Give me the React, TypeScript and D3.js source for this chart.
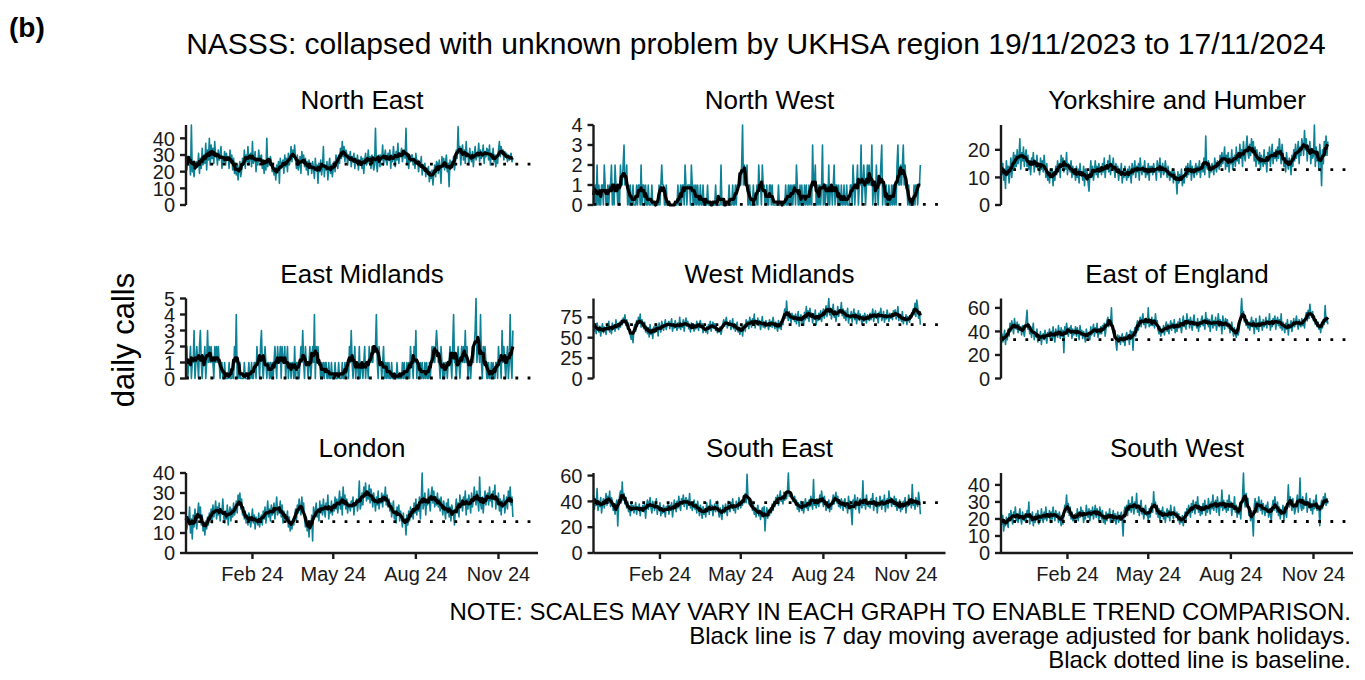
import React from 'react'
import * as d3 from 'd3'

// Daily calls, 19/11/2023 .. 17/11/2024 (365 days)
const regionNames = [
  'North East', 'North West', 'Yorkshire and Humber',
  'East Midlands', 'West Midlands', 'East of England',
  'London', 'South East', 'South West',
]

const northEast = [
  33,21,29,24,27,18,48,20,22,17,25,22,26,23,31,19,28,22,34,24,30,25,37,21,33,27,40,24,
  36,28,34,25,38,29,31,24,33,27,30,35,22,29,26,32,24,31,27,29,22,33,26,30,21,28,19,25,
  18,24,15,22,26,17,21,28,24,33,22,30,26,35,24,29,31,23,38,25,27,32,20,28,24,33,26,29,
  30,22,27,19,25,21,40,23,28,24,29,26,20,25,18,22,15,24,20,26,13,28,22,25,27,19,30,23,
  28,20,31,24,27,35,26,33,29,36,27,22,30,21,24,29,19,32,26,30,23,28,21,26,18,27,22,25,
  19,26,22,16,28,21,24,13,25,20,27,18,23,35,17,24,21,26,15,23,28,19,24,17,22,26,20,30,
  27,22,30,25,34,28,38,29,35,26,33,31,24,30,27,32,23,29,26,31,22,28,25,30,21,27,24,29,
  22,28,19,27,31,24,26,33,25,29,22,30,26,21,24,46,26,20,27,30,23,30,27,36,24,29,33,26,
  24,31,27,33,22,30,26,35,28,23,32,27,37,25,31,29,34,26,30,33,28,46,25,31,22,29,26,30,
  30,24,28,22,31,25,27,20,26,23,29,18,24,21,25,17,22,19,23,14,20,16,21,12,19,24,17,26,
  25,19,27,22,13,29,24,28,21,26,30,20,25,11,27,22,26,24,29,21,26,33,28,47,31,35,24,33,
  36,27,33,25,38,29,31,24,34,28,26,32,23,30,35,27,31,29,37,26,33,28,30,36,25,32,29,34,
  33,27,36,24,31,28,34,26,30,23,29,25,33,38,29,35,31,33,27,32,29,31,26,30,27,29,31,26,
  28,
]

const northWest = [
  1,0,1,0,2,0,1,0,0,1,1,0,2,1,0,0,1,0,1,1,2,0,1,0,2,1,1,0,
  1,0,2,1,1,2,3,1,1,2,0,1,0,1,0,0,1,0,0,0,1,0,1,1,0,2,0,1,
  1,0,1,0,0,1,0,0,0,1,0,0,0,0,0,0,0,1,0,1,2,1,1,0,0,1,0,0,
  0,0,0,0,0,0,0,0,0,0,1,0,0,1,0,1,1,0,2,1,0,1,1,1,0,2,1,0,
  1,0,1,0,1,0,0,1,0,0,1,0,0,0,0,1,0,0,0,0,0,0,0,0,1,0,0,0,
  0,0,2,0,0,0,0,0,0,0,0,1,0,0,0,1,0,0,1,0,1,1,1,1,1,2,4,1,
  2,1,1,2,0,0,1,0,0,0,1,0,0,0,1,0,2,1,1,0,2,1,1,0,0,1,0,0,
  1,1,0,1,0,0,0,0,0,0,1,0,0,0,0,0,0,0,1,0,0,1,0,1,0,1,0,1,
  1,0,2,1,0,0,1,0,1,0,0,1,0,1,0,0,1,0,1,0,3,1,1,2,0,0,1,0,
  1,0,1,3,0,1,0,1,1,0,2,0,1,1,0,1,2,0,1,1,0,1,0,0,1,0,0,1,
  0,0,1,0,0,0,1,1,0,2,1,0,1,1,2,0,1,1,3,0,1,2,1,0,1,2,1,2,
  1,1,3,0,1,1,0,2,1,0,1,1,2,3,0,1,1,0,1,0,0,1,0,0,1,0,1,0,
  1,0,2,3,1,1,2,1,2,3,1,2,1,1,0,1,0,0,0,0,0,1,0,1,1,0,1,1,
  2,
]

const yorkshire = [
  18,11,15,9,13,6,16,11,14,8,12,17,10,15,19,13,18,14,20,15,17,24,13,19,16,21,14,18,
  20,14,18,13,16,11,17,15,19,12,16,14,18,13,15,11,17,13,16,12,18,14,10,15,9,12,8,13,
  10,13,7,12,9,14,11,16,12,15,10,18,14,17,12,16,13,19,11,15,14,12,16,10,14,11,13,9,
  14,10,13,8,15,11,12,9,14,7,13,10,12,8,5,11,16,10,14,9,12,16,11,14,10,15,12,13,
  11,15,12,17,10,14,13,16,12,18,11,15,14,17,13,10,15,12,14,9,13,11,15,8,12,10,14,11,
  9,13,10,14,12,8,15,11,13,16,10,14,12,15,9,17,13,11,14,12,16,10,13,11,15,9,14,12,
  14,11,15,12,13,9,16,14,12,17,10,13,15,11,12,16,13,10,14,11,9,12,10,13,8,12,11,10,
  4,12,8,11,9,13,7,10,8,12,14,10,15,11,13,16,9,14,12,10,13,15,11,14,12,16,10,13,
  15,12,17,11,25,14,13,16,10,14,12,15,13,11,17,14,12,16,15,13,18,14,19,15,17,21,13,18,
  14,19,12,17,15,20,13,16,18,14,21,16,19,15,22,17,20,14,23,18,16,21,25,19,17,22,18,24,
  19,23,16,21,14,20,17,15,19,13,18,16,14,20,15,17,12,19,16,21,14,18,22,15,19,17,20,16,
  21,17,24,19,15,22,18,14,17,12,19,15,13,17,16,11,18,14,20,16,22,17,19,23,15,21,18,24,
  22,18,27,20,24,16,21,19,23,15,20,17,18,29,14,21,16,19,13,22,17,7,20,15,23,19,25,18,
  23,
]

const eastMidlands = [
  1,2,0,1,1,2,0,1,1,3,0,1,2,1,0,2,3,1,0,1,1,2,0,1,3,1,2,1,
  2,1,1,0,2,1,2,1,2,1,0,1,1,0,0,1,0,0,0,0,1,0,0,0,1,0,2,1,
  4,0,1,0,1,0,0,0,0,1,0,0,0,0,1,0,0,1,0,0,1,1,0,2,1,1,0,2,
  3,1,0,1,2,1,0,1,1,0,1,0,1,0,1,2,1,0,2,1,1,2,0,2,1,1,2,0,
  1,2,0,1,1,0,1,1,0,2,0,1,1,0,0,1,2,1,3,1,0,2,1,1,0,1,2,0,
  1,2,1,4,0,2,1,2,1,1,0,1,0,1,0,1,1,0,0,1,0,0,1,0,0,0,1,0,
  0,0,1,0,0,0,1,0,0,1,0,1,1,0,2,1,3,1,0,1,2,0,1,1,0,2,0,1,
  1,0,1,2,0,1,1,0,2,1,1,2,1,2,2,2,4,1,0,2,1,1,0,1,2,0,1,0,
  1,0,1,0,0,1,0,0,0,0,0,1,0,0,0,0,0,1,0,1,0,0,1,0,1,0,2,1,
  1,0,2,1,3,0,1,1,0,1,0,1,0,0,1,0,1,0,0,1,0,1,2,1,2,1,2,3,
  2,1,1,0,2,1,0,1,0,1,1,0,1,1,2,1,0,2,4,1,1,0,1,2,1,0,1,2,
  1,2,1,3,1,2,0,1,1,0,1,2,1,2,3,5,1,2,2,1,4,1,0,2,1,2,1,0,
  0,1,0,0,1,0,1,0,0,1,1,0,2,1,1,0,3,1,2,1,0,1,2,0,1,4,1,0,
  3,
]

const westMidlands = [
  71,58,66,55,68,62,57,64,52,61,67,56,63,59,54,66,60,70,57,63,55,68,61,65,58,72,62,67,
  60,69,63,71,66,74,70,78,65,72,61,68,59,53,48,57,44,61,66,58,71,64,75,68,79,63,72,66,
  61,69,57,64,55,62,51,66,54,60,49,63,56,67,58,64,52,68,61,57,70,63,59,66,72,60,65,68,
  70,61,67,73,58,66,62,71,64,59,68,62,75,60,67,63,72,58,69,74,64,70,61,66,57,68,62,65,
  58,66,61,70,64,59,68,71,62,67,56,64,60,57,63,55,66,61,70,58,64,69,62,67,59,63,56,61,
  57,63,54,60,66,72,64,70,75,62,68,65,71,60,66,73,61,67,58,64,69,57,62,54,60,65,52,63,
  66,58,72,64,70,61,75,68,63,73,66,79,62,70,67,74,65,71,60,68,76,63,69,62,71,65,67,60,
  72,64,70,63,75,67,61,69,64,58,71,62,67,60,73,66,78,85,74,95,79,71,82,76,68,80,73,77,
  70,79,67,75,82,64,73,78,69,76,65,81,72,88,74,83,70,86,77,80,68,79,73,84,66,77,71,80,
  72,83,70,79,85,74,81,89,76,84,98,78,86,73,82,91,75,83,70,79,88,76,84,81,93,77,85,74,
  83,71,79,86,68,77,74,82,69,78,85,72,80,67,76,83,71,79,74,66,77,70,80,73,68,78,75,71,
  80,72,78,85,70,76,83,74,79,68,81,77,86,71,75,82,69,78,73,84,76,70,80,74,79,72,83,77,
  84,73,79,88,71,78,75,70,82,67,74,71,78,66,76,72,69,77,74,80,85,78,92,76,96,88,74,81,
  66,
]

const eastOfEngland = [
  28,38,31,35,41,29,37,33,42,36,47,40,49,44,38,51,45,42,48,39,46,41,44,37,45,40,36,43,
  49,58,42,46,38,44,35,41,47,33,39,36,42,31,37,34,40,29,36,38,33,41,35,30,39,37,42,34,
  40,33,44,36,31,42,38,35,45,39,34,43,37,41,22,44,38,47,41,36,43,39,45,34,42,37,40,44,
  36,43,39,33,45,37,41,34,40,36,31,42,38,35,39,33,44,37,41,46,36,43,39,47,35,42,38,44,
  38,45,41,47,36,43,49,52,44,50,46,60,42,39,35,41,30,24,37,33,36,29,34,38,31,35,28,36,
  39,33,37,29,41,35,40,24,38,43,36,45,49,41,47,52,44,50,55,46,49,43,51,47,60,44,49,45,
  52,45,50,43,55,47,49,41,38,44,36,42,39,45,37,43,48,40,46,38,44,49,41,47,43,50,39,46,
  40,48,43,51,45,39,47,53,44,49,42,55,47,50,43,52,46,41,49,54,45,47,43,51,40,48,44,50,
  53,45,49,42,56,47,51,44,50,40,48,54,43,49,45,52,41,47,55,44,50,46,38,53,47,42,51,45,
  50,43,47,39,44,48,41,36,43,38,35,42,37,40,49,55,68,52,57,48,53,45,50,43,48,41,46,52,
  44,49,38,47,51,42,46,40,53,45,48,41,50,44,47,52,43,49,46,55,41,48,44,51,47,53,42,49,
  52,45,50,43,55,41,48,44,39,47,42,50,37,46,43,49,40,45,51,44,48,53,46,42,50,47,44,51,
  45,50,43,52,56,49,58,51,63,55,52,57,49,53,46,50,44,48,42,45,39,47,43,50,46,62,48,52,
  46,
]

const london = [
  21,12,18,15,23,10,17,7,19,13,22,16,12,20,25,17,23,14,19,11,15,9,16,12,18,14,20,17,
  22,15,24,18,21,26,17,23,19,25,16,22,20,27,18,15,21,17,24,14,20,23,16,22,18,25,19,21,
  26,20,29,24,30,22,27,19,23,17,21,15,19,14,20,18,13,17,22,15,19,12,18,16,14,20,13,17,
  19,14,21,17,23,15,20,26,18,22,16,24,19,21,25,17,22,28,19,23,20,26,18,24,15,21,17,19,
  16,21,13,18,11,15,12,17,14,19,22,16,24,20,27,23,19,28,21,25,17,13,18,11,16,8,15,13,
  19,6,23,17,21,25,18,22,16,26,20,24,19,27,21,18,25,22,29,17,23,20,26,19,24,21,28,22,
  27,20,25,31,22,28,19,33,24,29,22,27,20,25,24,21,26,23,28,19,25,25,27,21,26,36,22,24,
  30,24,33,28,35,26,31,27,34,25,32,29,23,30,26,21,28,24,31,22,27,25,30,23,29,26,33,24,
  29,23,27,21,25,18,22,26,17,20,15,23,19,24,16,21,18,13,20,15,17,9,19,14,21,16,23,18,
  22,17,25,20,27,19,24,21,28,17,26,40,22,25,30,19,27,24,32,26,21,29,33,25,31,23,28,24,
  30,23,27,21,28,24,19,26,22,17,25,20,27,18,23,16,24,21,19,14,22,27,20,25,18,29,23,26,
  21,28,24,31,19,27,22,29,25,20,30,23,26,33,28,24,31,26,21,38,25,22,28,20,26,31,24,29,
  30,24,33,26,29,23,31,27,34,22,28,25,30,21,27,19,26,23,29,20,24,28,22,31,26,33,24,28,
  18,
]

const southEast = [
  45,34,41,37,50,33,39,36,43,31,38,42,35,40,46,37,44,39,48,36,43,40,33,38,30,37,41,21,
  37,44,48,39,55,41,46,38,43,35,40,32,36,29,38,33,37,31,35,39,30,36,34,38,29,35,33,37,
  32,38,27,36,41,34,39,43,35,31,40,37,33,38,42,30,36,34,39,29,35,31,37,33,28,36,34,38,
  30,37,33,39,28,35,41,36,32,40,35,44,37,33,42,38,45,36,40,43,34,41,37,46,35,39,33,38,
  41,34,38,31,40,35,29,37,33,27,36,30,34,28,39,32,36,30,41,33,37,29,35,38,32,36,40,33,
  28,35,30,26,37,33,31,38,34,29,40,36,32,39,35,42,33,37,31,40,36,34,43,38,35,41,37,44,
  39,46,39,61,44,38,38,36,41,33,39,30,35,28,34,37,29,33,26,31,35,28,36,17,30,35,27,33,
  29,35,31,38,33,40,36,43,39,45,37,42,48,40,44,38,47,41,46,42,48,62,44,47,43,44,40,41,
  44,37,41,34,39,32,36,40,33,38,31,37,42,35,39,33,41,36,44,38,34,57,37,40,35,42,38,36,
  45,39,48,42,36,44,40,33,38,35,41,32,37,34,40,45,38,43,47,39,44,36,41,35,42,38,33,40,
  42,35,39,31,44,36,40,33,22,41,37,45,34,39,43,36,31,42,38,35,56,37,41,34,45,38,36,40,
  35,42,38,46,33,40,37,43,31,39,36,44,40,34,41,37,45,32,38,42,35,48,39,43,36,41,38,44,
  36,42,33,39,35,41,32,38,34,40,37,43,31,39,36,45,38,41,35,53,37,40,34,43,38,36,47,41,
  30,
]

const southWest = [
  26,17,22,13,19,16,21,18,15,23,19,25,20,17,24,21,27,19,23,18,22,26,20,17,24,21,19,23,
  18,25,21,30,17,22,19,24,16,21,18,23,20,25,17,22,19,26,21,18,24,20,27,19,23,21,25,18,
  24,20,27,22,19,25,21,23,18,24,20,16,21,17,23,28,26,34,24,29,22,27,20,24,19,22,18,23,
  20,26,19,24,21,27,22,25,18,23,20,28,24,21,26,19,25,22,27,20,24,28,21,26,23,19,27,24,
  20,25,18,22,17,24,19,23,21,26,18,22,20,25,19,23,17,21,24,18,22,22,24,19,10,24,27,23,
  28,22,31,25,29,24,33,27,23,30,26,35,24,28,22,27,31,23,26,20,25,28,22,24,19,26,21,25,
  29,24,36,27,30,23,28,21,26,19,25,22,27,20,24,18,23,26,21,25,19,28,22,24,20,27,23,21,
  24,19,23,17,21,18,22,16,20,24,19,26,22,28,25,21,29,24,31,27,23,30,26,33,24,28,22,27,
  23,29,25,31,22,28,24,32,27,23,30,26,34,25,29,31,24,33,28,22,30,27,37,25,31,26,29,24,
  31,25,34,27,30,22,29,26,33,24,28,21,27,23,26,20,29,33,47,31,27,35,29,32,22,26,19,25,
  20,10,27,32,26,30,24,33,28,25,31,23,29,26,22,28,24,30,21,26,23,19,27,31,25,33,28,24,
  30,22,27,20,25,23,28,19,26,24,21,29,40,27,33,30,25,32,28,23,26,29,34,24,30,44,27,25,
  33,26,31,28,35,24,30,27,32,25,29,23,31,26,30,34,25,28,28,16,27,31,26,33,29,35,28,32,
  29,
]

const regionValues = [
  northEast, northWest, yorkshire,
  eastMidlands, westMidlands, eastOfEngland,
  london, southEast, southWest,
]

const baselines = [24.5, 0.03, 12.8, 0.03, 66, 33, 15.7, 39, 18.5]

const yTickValues = [
  [0, 10, 20, 30, 40], [0, 1, 2, 3, 4], [0, 10, 20],
  [0, 1, 2, 3, 4, 5], [0, 25, 50, 75], [0, 20, 40, 60],
  [0, 10, 20, 30, 40], [0, 20, 40, 60], [0, 10, 20, 30, 40],
]

const xTickDates = [new Date(2024, 1, 1), new Date(2024, 4, 1), new Date(2024, 7, 1), new Date(2024, 10, 1)]

const startDate = new Date(2023, 10, 19)
const axisEndDate = new Date(2024, 11, 15)

const noteLines = [
  'NOTE: SCALES MAY VARY IN EACH GRAPH TO ENABLE TREND COMPARISON.',
  'Black line is 7 day moving average adjusted for bank holidays.',
  'Black dotted line is baseline.',
]

// layout
const COL_X = [186, 593.5, 1001]
const ROW_Y = [125, 298.5, 473]
const PANEL_W = 352
const PANEL_H = 80
const TEAL = '#0d8195'
const FONT = "'Liberation Sans', Arial, Helvetica, sans-serif"
const INK = '#1a1a1a'
const fmt = d3.timeFormat('%b %y')

function rollingMean(values: number[], size = 7) {
  const half = Math.floor(size / 2)
  return values.map((_, i) => {
    const win = values.slice(Math.max(0, i - half), Math.min(values.length, i + half + 1))
    return d3.mean(win) as number
  })
}

function Panel({ index }: { index: number }) {
  const col = index % 3
  const row = Math.floor(index / 3)
  const values = regionValues[index]
  const dates = values.map((_, i) => d3.timeDay.offset(startDate, i))

  const x = d3.scaleTime().domain([startDate, axisEndDate]).range([0, PANEL_W])
  const y = d3.scaleLinear().domain([0, d3.max(values) as number]).range([PANEL_H, 0])

  const line = d3.line<number>()
    .x((_, i) => x(dates[i]))
    .y(d => y(d))

  const avg = rollingMean(values)
  const base = baselines[index]

  return (
    <g transform={`translate(${COL_X[col]},${ROW_Y[row]})`}>
      <text x={PANEL_W / 2} y={-16} textAnchor="middle" fontSize={26} fill="#000">
        {regionNames[index]}
      </text>

      <path d={line(values) ?? ''} fill="none" stroke={TEAL} strokeWidth={1.6} strokeLinejoin="round" />
      <line x1={0} x2={PANEL_W} y1={y(base)} y2={y(base)}
        stroke="#000" strokeWidth={2.8} strokeDasharray="2.8 9.4" />
      <path d={line(avg) ?? ''} fill="none" stroke="#000" strokeWidth={3.2} strokeLinejoin="round" />

      {/* y axis */}
      <line x1={0} x2={0} y1={0} y2={PANEL_H} stroke={INK} strokeWidth={2.4} />
      {yTickValues[index].map(t => (
        <g key={t} transform={`translate(0,${y(t)})`}>
          <line x1={-6} x2={0} stroke={INK} strokeWidth={2.4} />
          <text x={-11} dy="0.36em" textAnchor="end" fontSize={20} fill={INK}>{t}</text>
        </g>
      ))}

      {/* x axis only on bottom row */}
      {row === 2 && (
        <g transform={`translate(0,${PANEL_H})`}>
          <line x1={0} x2={PANEL_W} stroke={INK} strokeWidth={2.4} />
          {xTickDates.map(d => (
            <g key={+d} transform={`translate(${x(d)},0)`}>
              <line y1={0} y2={6} stroke={INK} strokeWidth={2.4} />
              <text y={28} textAnchor="middle" fontSize={20} fill={INK}>{fmt(d)}</text>
            </g>
          ))}
        </g>
      )}
    </g>
  )
}

export default function App() {
  return (
    <svg width={1365} height={680} fontFamily={FONT}
      style={{ position: 'absolute', left: 0, top: 0, background: '#fff', display: 'block' }}>
      <text x={9} y={37} fontSize={28} fontWeight="bold" fill="#000">(b)</text>
      <text x={756} y={54} textAnchor="middle" fontSize={30} fill="#000">
        NASSS: collapsed with unknown problem by UKHSA region 19/11/2023 to 17/11/2024
      </text>
      <text transform="translate(134,340) rotate(-90)" textAnchor="middle" fontSize={31} fill="#000">
        daily calls
      </text>
      {regionValues.map((_, i) => <Panel key={i} index={i} />)}
      {noteLines.map((t, i) => (
        <text key={i} x={1351} y={619.5 + i * 24} textAnchor="end" fontSize={24} fill="#000">{t}</text>
      ))}
    </svg>
  )
}
